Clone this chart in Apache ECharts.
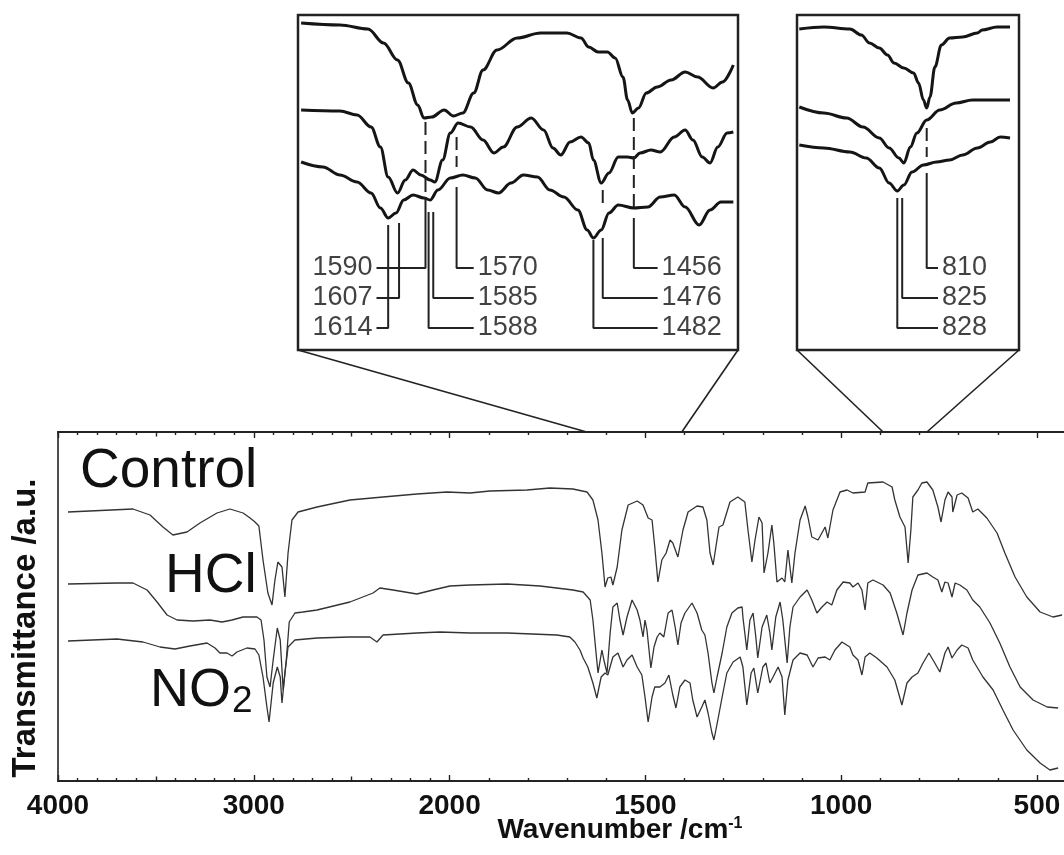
<!DOCTYPE html>
<html><head><meta charset="utf-8">
<script src="https://cdn.jsdelivr.net/npm/echarts@6/dist/echarts.min.js"></script>
<style>html,body{margin:0;padding:0;background:#fff}#c{width:1064px;height:855px}</style>
</head><body><div id="c"></div>
<script>
// ---------------- DATA ----------------
// main spectra: [wavenumber cm-1, transmittance a.u.]
const controlMain = [[3949,269],[3617,272],[3530,266],[3464,254],[3413,246],[3341,249],[3275,258],[3188,268],[3122,272],[3055,268],[3019,263],[2994,259],[2974,255],[2953,221],[2928,188],[2907,176],[2892,201],[2877,219],[2856,214],[2841,184],[2825,228],[2805,261],[2774,269],[2677,274],[2509,281],[2340,284],[2167,287],[2013,289],[1948,288],[1897,290],[1802,291],[1744,293],[1685,292],[1649,289],[1634,281],[1621,261],[1611,228],[1603,194],[1596,203],[1588,204],[1583,196],[1572,214],[1560,251],[1544,276],[1521,280],[1506,276],[1493,263],[1483,261],[1476,234],[1468,199],[1458,221],[1447,228],[1437,241],[1430,238],[1417,224],[1404,251],[1391,269],[1368,275],[1353,274],[1343,261],[1335,228],[1327,216],[1320,234],[1312,254],[1302,256],[1284,279],[1264,284],[1246,279],[1238,251],[1228,219],[1220,241],[1210,264],[1202,258],[1197,208],[1187,228],[1177,256],[1172,238],[1164,199],[1151,203],[1144,199],[1136,231],[1126,198],[1118,228],[1105,261],[1092,275],[1085,264],[1075,244],[1059,241],[1041,254],[1034,243],[1021,271],[1003,289],[985,291],[970,288],[939,289],[932,298],[893,299],[870,294],[863,281],[850,264],[837,254],[829,218],[822,251],[817,284],[804,291],[794,298],[781,299],[766,291],[753,274],[745,259],[735,281],[727,289],[717,284],[715,269],[704,286],[692,288],[676,283],[664,269],[651,272],[628,263],[602,248],[582,228],[556,204],[526,184],[492,169],[459,164],[436,166]];
const hclMain = [[3949,197],[3699,198],[3617,198],[3545,191],[3494,179],[3443,166],[3392,161],[3310,160],[3224,161],[3162,159],[3111,161],[3055,164],[2984,164],[2963,161],[2948,141],[2933,104],[2917,94],[2901,121],[2880,153],[2865,141],[2850,91],[2834,121],[2819,159],[2790,168],[2749,169],[2677,171],[2509,179],[2391,188],[2356,193],[2289,191],[2167,187],[2085,191],[1999,195],[1948,196],[1853,197],[1769,195],[1685,191],[1659,189],[1641,181],[1634,161],[1626,128],[1621,108],[1611,131],[1606,121],[1598,108],[1590,148],[1583,174],[1572,178],[1565,161],[1557,146],[1547,164],[1534,181],[1521,171],[1514,161],[1506,144],[1501,161],[1496,151],[1486,113],[1478,134],[1470,144],[1463,148],[1453,144],[1442,168],[1432,171],[1424,154],[1417,136],[1409,158],[1399,168],[1381,178],[1368,168],[1356,151],[1348,146],[1340,128],[1330,98],[1325,88],[1317,104],[1304,128],[1292,154],[1279,168],[1264,173],[1253,174],[1251,164],[1241,131],[1233,161],[1225,168],[1218,144],[1213,123],[1202,154],[1190,166],[1182,148],[1177,131],[1167,164],[1156,179],[1149,161],[1138,118],[1131,154],[1123,174],[1105,184],[1087,191],[1075,181],[1062,168],[1049,174],[1036,179],[1024,176],[1011,191],[995,199],[978,198],[970,194],[957,198],[947,191],[939,171],[932,198],[919,201],[893,196],[875,188],[858,168],[842,146],[832,168],[819,191],[804,206],[781,208],[766,204],[753,201],[743,189],[735,199],[727,198],[717,184],[709,198],[697,196],[679,191],[664,181],[646,174],[620,158],[595,138],[569,114],[543,94],[510,81],[474,74],[446,73]];
const no2Main = [[3949,140],[3699,142],[3566,139],[3479,134],[3403,132],[3326,135],[3239,138],[3198,133],[3173,128],[3137,128],[3111,125],[3086,129],[3035,133],[2994,132],[2974,126],[2953,104],[2933,74],[2922,59],[2901,98],[2880,114],[2865,104],[2856,78],[2841,108],[2825,134],[2790,141],[2677,143],[2509,144],[2407,144],[2371,139],[2340,146],[2167,148],[2049,149],[1948,148],[1853,148],[1726,146],[1693,144],[1680,139],[1667,131],[1659,123],[1647,114],[1634,98],[1624,83],[1613,104],[1603,108],[1596,106],[1583,124],[1570,128],[1557,114],[1547,121],[1534,126],[1521,114],[1509,106],[1501,84],[1493,59],[1483,84],[1476,94],[1463,94],[1450,98],[1440,106],[1430,86],[1422,73],[1412,94],[1399,101],[1386,98],[1379,81],[1368,64],[1356,74],[1348,81],[1340,68],[1330,48],[1325,41],[1315,61],[1304,84],[1292,108],[1276,119],[1258,124],[1251,114],[1241,76],[1230,108],[1223,113],[1213,88],[1200,114],[1192,118],[1182,98],[1174,104],[1161,114],[1151,104],[1144,66],[1136,101],[1123,121],[1105,128],[1087,126],[1072,114],[1059,123],[1041,124],[1029,121],[1016,131],[998,139],[978,134],[970,126],[957,121],[947,106],[939,124],[927,128],[909,123],[883,114],[863,101],[845,76],[832,98],[819,104],[804,108],[791,118],[776,128],[761,118],[748,109],[735,128],[727,134],[717,123],[704,131],[692,136],[676,133],[664,121],[638,104],[612,91],[587,71],[561,51],[526,31],[492,18],[467,11],[446,13]];

// inset 1 (1672-1389 cm-1)
const controlInset1 = [[1670,327],[1645,325],[1627,321],[1617,307],[1608,290],[1601,267],[1595,245],[1591,232],[1586,233],[1578,240],[1572,234],[1566,237],[1559,257],[1553,280],[1544,300],[1531,312],[1516,317],[1499,317],[1490,312],[1485,303],[1479,298],[1473,298],[1468,292],[1463,273],[1460,250],[1457,237],[1453,242],[1448,257],[1441,263],[1432,270],[1423,278],[1415,273],[1405,262],[1399,268],[1392,285]];
const hclInset1 = [[1670,240],[1645,239],[1634,235],[1625,223],[1619,203],[1614,173],[1608,157],[1603,170],[1598,180],[1593,175],[1587,170],[1584,168],[1579,190],[1574,217],[1569,227],[1561,223],[1553,210],[1546,197],[1540,203],[1531,223],[1522,232],[1514,220],[1508,202],[1503,195],[1497,208],[1490,213],[1485,207],[1482,190],[1477,167],[1472,177],[1466,193],[1460,193],[1456,192],[1452,197],[1445,200],[1439,198],[1430,213],[1423,220],[1418,210],[1412,193],[1407,187],[1402,203],[1396,217],[1392,218]];
const no2Inset1 = [[1670,188],[1656,183],[1645,175],[1634,168],[1625,157],[1619,142],[1614,132],[1609,137],[1604,150],[1598,155],[1591,152],[1587,150],[1582,160],[1574,172],[1566,175],[1558,172],[1550,160],[1543,157],[1535,167],[1527,175],[1518,173],[1510,160],[1501,153],[1492,140],[1486,120],[1482,112],[1477,120],[1472,137],[1466,145],[1456,142],[1447,143],[1439,153],[1430,155],[1423,143],[1414,125],[1407,140],[1400,148],[1392,148]];

// inset 2 (889-754 cm-1)
const controlInset2 = [[888,321],[873,323],[857,321],[850,315],[845,307],[839,302],[834,295],[830,287],[824,282],[818,277],[815,267],[812,250],[810,242],[808,253],[805,283],[801,305],[796,312],[788,313],[779,317],[776,320],[767,323],[759,323]];
const hclInset2 = [[888,243],[873,237],[859,232],[849,223],[839,212],[833,202],[827,192],[824,187],[820,203],[816,217],[810,230],[802,240],[792,247],[782,250],[759,250]];
const no2Inset2 = [[888,205],[873,202],[857,198],[847,192],[839,182],[833,167],[828,159],[824,165],[819,178],[812,185],[804,188],[796,190],[788,195],[779,202],[771,208],[765,213],[759,212]];

// peak annotations
const inset1Peaks    = [1590, 1607, 1614, 1585, 1588, 1570, 1456, 1476, 1482];
const inset1Side     = ['left','left','left','right','right','right','right','right','right'];
const inset1Row      = [0, 1, 2, 1, 2, 0, 0, 1, 2];
const inset1DashTop  = [228, null, null, null, null, 213, 232, 160, null];
const inset1DashEnd  = [153, null, null, null, null, 183, 137, 142, null];
const inset1SolidTop = [153, 127, 125, 138, 138, 163, 132, 112, 110];
const inset1LeadEnd  = [1621.5, 1621.5, 1621.5, 1559, 1559, 1559, 1440.7, 1440.7, 1440.7];
const inset2Peaks    = [810, 825, 828];
const inset2Side     = ['right','right','right'];
const inset2Row      = [0, 1, 2];
const inset2DashTop  = [222, null, null];
const inset2DashEnd  = [193, null, null];
const inset2SolidTop = [177, 152, 152];
const inset2LeadEnd  = [803.1, 803.1, 803.1];
const rowLevels = [82, 52, 22];

// axis
const majorTicks  = [500, 1000, 1500, 2000, 3000, 4000];
const mediumTicks = [2500, 3500];
const minorTicks  = [600,700,800,900,1100,1200,1300,1400,1600,1700,1800,1900,2100,2200,2300,2400,2600,2700,2800,2900,3100,3200,3300,3400,3600,3700,3800,3900];
const inset1Range = [1389, 1672];
const inset2Range = [753.5, 889.4];
const zoom1Wave = [1650, 1407];
const zoom2Wave = [893, 781];

// ---------------- CHART ----------------
const FONT = '"Liberation Sans", Arial, Helvetica, sans-serif';
const INK = '#222';
const toU = w => w > 2000 ? 2000 + (w - 2000) / 2 : w;
const fromU = u => u > 2000 ? 2000 + (u - 2000) * 2 : u;
const U_MIN = 431, U_MAX = 3000;

function mainX(pos, ticks, len, withLabel) {
  return {
    type: 'value', gridIndex: 0, position: pos, min: U_MIN, max: U_MAX, inverse: true,
    axisLine: {show: true, onZero: false, lineStyle: {color: INK, width: 1.6}},
    axisTick: {show: true, inside: true, length: len, customValues: ticks.map(toU), lineStyle: {color: INK, width: 1.4}},
    axisLabel: withLabel ? {
      show: true, customValues: majorTicks.map(toU), margin: 11,
      formatter: v => String(Math.round(fromU(v))),
      fontFamily: FONT, fontWeight: 'bold', fontSize: 28, color: '#111'
    } : {show: false},
    splitLine: {show: false}
  };
}

const chart = echarts.init(document.getElementById('c'), null, {renderer: 'canvas'});

const mainLine = (name, data) => ({
  name, type: 'line', xAxisIndex: 0, yAxisIndex: 0, showSymbol: false, symbol: 'none', silent: true,
  data: data.map(([w, v]) => [toU(w), v]),
  lineStyle: {color: '#333', width: 1.3}
});
const insetLine = (name, data, xi, yi) => ({
  name, type: 'line', xAxisIndex: xi, yAxisIndex: yi, showSymbol: false, symbol: 'none', silent: true,
  smooth: 0.35, smoothMonotone: 'x',
  data, lineStyle: {color: '#151515', width: 3}
});

function annotations(peaks, side, row, dTop, dEnd, sTop, lead, xi, yi) {
  const out = [];
  const labelData = [];
  peaks.forEach((w, i) => {
    const r = rowLevels[row[i]];
    if (dTop[i] !== null) {
      out.push({type: 'line', xAxisIndex: xi, yAxisIndex: yi, symbol: 'none', silent: true,
        data: [[w, dTop[i]], [w, dEnd[i]]],
        lineStyle: {color: INK, width: 2, type: [13, 6]}});
    }
    out.push({type: 'line', xAxisIndex: xi, yAxisIndex: yi, symbol: 'none', silent: true,
      data: [[w, sTop[i]], [w, r], [lead[i], r]],
      lineStyle: {color: INK, width: 2}});
    labelData.push({value: [lead[i], r], label: {position: side[i], formatter: String(w)}});
  });
  out.push({type: 'scatter', xAxisIndex: xi, yAxisIndex: yi, symbolSize: 0, silent: true,
    data: labelData,
    label: {show: true, distance: 4, fontFamily: FONT, fontSize: 27, color: '#111'}});
  return out;
}

const option = {
  animation: false,
  backgroundColor: '#fff',
  grid: [
    {left: 58, right: 0, top: 432, bottom: 74, show: false},
    {left: 298, top: 15, width: 440, height: 335, show: true, borderColor: INK, borderWidth: 2.5, backgroundColor: 'transparent'},
    {left: 797, top: 15, width: 222, height: 335, show: true, borderColor: INK, borderWidth: 2.5, backgroundColor: 'transparent'}
  ],
  xAxis: [
    mainX('bottom', majorTicks, 6, true),
    mainX('bottom', mediumTicks, 4.5, false),
    mainX('bottom', minorTicks, 3, false),
    mainX('top', majorTicks, 6, false),
    mainX('top', mediumTicks, 4.5, false),
    mainX('top', minorTicks, 3, false),
    {type: 'value', gridIndex: 1, min: inset1Range[0], max: inset1Range[1], inverse: true, show: false},
    {type: 'value', gridIndex: 2, min: inset2Range[0], max: inset2Range[1], inverse: true, show: false}
  ],
  yAxis: [
    {type: 'value', gridIndex: 0, min: 0, max: 349,
      axisLine: {show: true, onZero: false, lineStyle: {color: INK, width: 1.6}},
      axisTick: {show: false}, axisLabel: {show: false}, splitLine: {show: false}},
    {type: 'value', gridIndex: 1, min: 0, max: 335, show: false},
    {type: 'value', gridIndex: 2, min: 0, max: 335, show: false}
  ],
  series: [
    mainLine('Control', controlMain),
    mainLine('HCl', hclMain),
    mainLine('NO2', no2Main),
    insetLine('Control', controlInset1, 6, 1),
    insetLine('HCl', hclInset1, 6, 1),
    insetLine('NO2', no2Inset1, 6, 1),
    insetLine('Control', controlInset2, 7, 2),
    insetLine('HCl', hclInset2, 7, 2),
    insetLine('NO2', no2Inset2, 7, 2),
    ...annotations(inset1Peaks, inset1Side, inset1Row, inset1DashTop, inset1DashEnd, inset1SolidTop, inset1LeadEnd, 6, 1),
    ...annotations(inset2Peaks, inset2Side, inset2Row, inset2DashTop, inset2DashEnd, inset2SolidTop, inset2LeadEnd, 7, 2)
  ]
};
chart.setOption(option);

// connectors and texts
const P = (xi, yi, pt) => chart.convertToPixel({xAxisIndex: xi, yAxisIndex: yi}, pt);
const g = [];
const c1a = P(6, 1, [inset1Range[1], 0]), c1b = P(6, 1, [inset1Range[0], 0]);
const c2a = P(7, 2, [inset2Range[1], 0]), c2b = P(7, 2, [inset2Range[0], 0]);
const m1a = P(0, 0, [toU(zoom1Wave[0]), 349]), m1b = P(0, 0, [toU(zoom1Wave[1]), 349]);
const m2a = P(0, 0, [toU(zoom2Wave[0]), 349]), m2b = P(0, 0, [toU(zoom2Wave[1]), 349]);
[[c1a, m1a], [c1b, m1b], [c2a, m2a], [c2b, m2b]].forEach(([a, b]) => {
  g.push({type: 'line', shape: {x1: a[0], y1: a[1], x2: b[0], y2: b[1]}, style: {stroke: INK, lineWidth: 1.6}, silent: true});
});
const T = (text, x, y, size, extra) => Object.assign({type: 'text', x, y, silent: true,
  style: {text, fontFamily: FONT, fontSize: size, fill: '#111', align: 'left', verticalAlign: 'middle'}}, extra || {});
g.push(T('Control', 80, 472, 55));
g.push(T('HCl', 165, 577, 55));
g.push(T('NO', 150, 691, 54));
g.push(T('2', 232, 702, 37));
g.push({type: 'text', x: 620, y: 830, silent: true,
  style: {text: 'Wavenumber /cm{sup|-1}', fontFamily: FONT, fontSize: 28, fontWeight: 'bold', fill: '#111', align: 'center', verticalAlign: 'middle',
    rich: {sup: {fontFamily: FONT, fontSize: 16, fontWeight: 'bold', fill: '#111', verticalAlign: 'top'}}}});
g.push({type: 'text', x: 26, y: 628, rotation: Math.PI / 2, silent: true,
  style: {text: 'Transmittance /a.u.', fontFamily: FONT, fontSize: 33, fontWeight: 'bold', fill: '#111', align: 'center', verticalAlign: 'middle'}});
chart.setOption({graphic: g});
</script>
</body></html>
